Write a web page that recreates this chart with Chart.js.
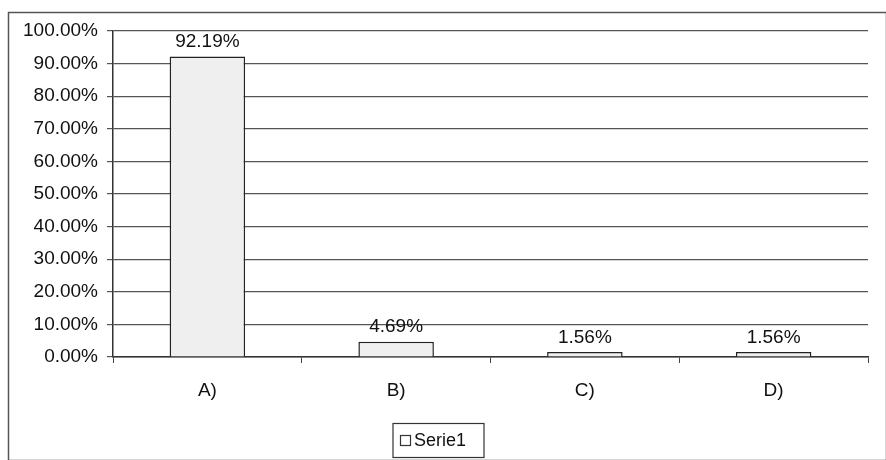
<!DOCTYPE html>
<html>
<head>
<meta charset="utf-8">
<script src="https://cdn.jsdelivr.net/npm/chart.js@4/dist/chart.umd.min.js"></script>
<style>
  html, body { margin: 0; padding: 0; background: #fff; }
  #wrap { width: 886px; height: 460px; position: relative; }
</style>
</head>
<body>
<div id="wrap"><canvas id="myChart" width="886" height="460"></canvas></div>
<script>
var categories = ['A)', 'B)', 'C)', 'D)'];
var serie1 = [92.19, 4.69, 1.56, 1.56];
var seriesName = 'Serie1';
var yTicks = [0, 10, 20, 30, 40, 50, 60, 70, 80, 90, 100];

var FONT = '"Liberation Sans", Arial, sans-serif';

// outer frame, value labels and the boxed legend
var extras = {
    id: 'extras',
    beforeDraw: function (chart) {
        var c = chart.ctx;
        c.save();
        c.fillStyle = '#fff';
        c.fillRect(0, 0, chart.width, chart.height);
        c.strokeStyle = '#555';
        c.lineWidth = 1.5;
        c.strokeRect(8.5, 12.5, chart.width - 8, chart.height - 12);
        c.restore();
    },
    afterDatasetsDraw: function (chart) {
        var c = chart.ctx;
        var meta = chart.getDatasetMeta(0);
        c.save();
        c.font = '19px ' + FONT;
        c.fillStyle = '#111';
        c.textAlign = 'center';
        c.textBaseline = 'bottom';
        meta.data.forEach(function (bar, i) {
            c.fillText(serie1[i].toFixed(2) + '%', bar.x, bar.y - 5);
        });

        // legend
        var cx = 438, top = 423, w = 91, h = 34;
        c.strokeStyle = '#333';
        c.lineWidth = 1.2;
        c.strokeRect(cx - w / 2 + 0.5, top + 0.5, w, h);
        c.fillStyle = '#fff';
        c.fillRect(cx - 38, top + 12, 10, 10);
        c.strokeRect(cx - 38 + 0.5, top + 12 + 0.5, 10, 10);
        c.fillStyle = '#111';
        c.textAlign = 'left';
        c.textBaseline = 'middle';
        c.font = '18px ' + FONT;
        c.fillText(seriesName, cx - 24, top + h / 2 + 1);
        c.restore();
    }
};

var ctx = document.getElementById('myChart').getContext('2d');
var myChart = new Chart(ctx, {
    type: 'bar',
    data: {
        labels: categories,
        datasets: [{
            label: seriesName,
            data: serie1,
            backgroundColor: '#efefef',
            borderColor: '#222',
            borderWidth: 1.5,
            barPercentage: 0.4,
            categoryPercentage: 1
        }]
    },
    options: {
        responsive: false,
        animation: false,
        layout: { padding: { left: 8, right: 18, top: 31, bottom: 0 } },
        plugins: {
            legend: { display: false },
            tooltip: { enabled: false }
        },
        scales: {
            x: {
                offset: true,
                grid: {
                    offset: true,
                    drawOnChartArea: false,
                    drawTicks: true,
                    tickLength: 6,
                    color: '#444'
                },
                border: { display: true, color: '#333', width: 1.5 },
                ticks: {
                    color: '#111',
                    font: { size: 19, family: FONT },
                    padding: 16
                },
                afterFit: function (s) { s.height = 103; }
            },
            y: {
                min: 0,
                max: 100,
                afterBuildTicks: function (s) {
                    s.ticks = yTicks.map(function (v) { return { value: v }; });
                },
                grid: {
                    color: '#555',
                    lineWidth: 1.2,
                    drawTicks: true,
                    tickLength: 6
                },
                border: { display: true, color: '#333', width: 1.5 },
                ticks: {
                    color: '#111',
                    font: { size: 19, family: FONT },
                    padding: 9,
                    callback: function (v) { return v.toFixed(2) + '%'; }
                },
                afterFit: function (s) { s.width = 105; }
            }
        }
    },
    plugins: [extras]
});
</script>
</body>
</html>
